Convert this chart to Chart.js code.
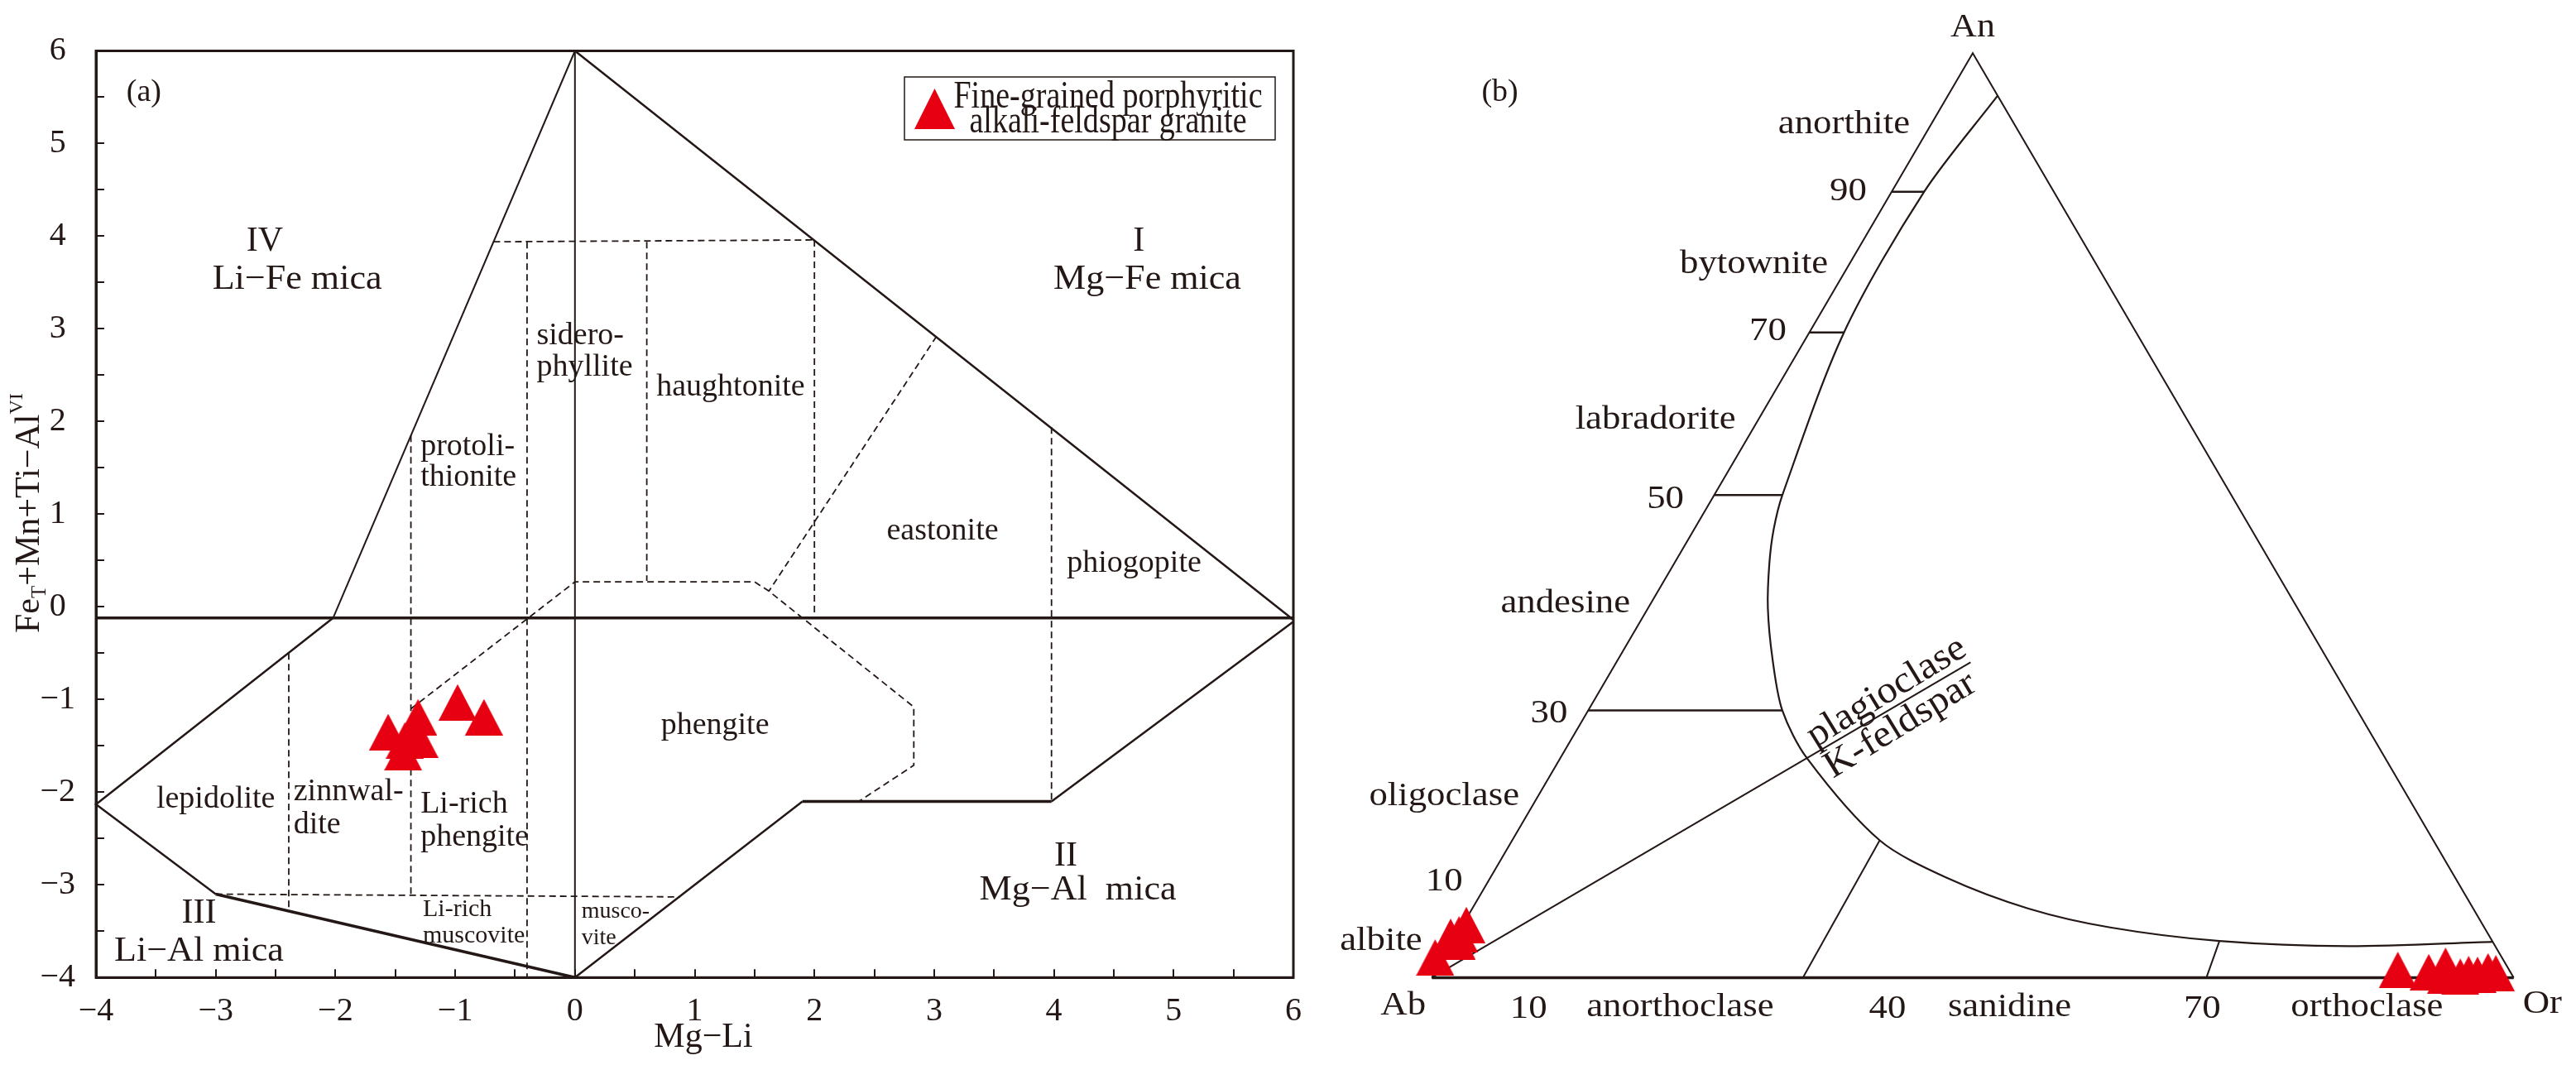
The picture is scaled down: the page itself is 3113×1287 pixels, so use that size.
<!DOCTYPE html>
<html>
<head>
<meta charset="utf-8">
<script src="https://cdn.jsdelivr.net/npm/chart.js@4.4.0/dist/chart.umd.min.js"></script>
<style>
    html, body { margin: 0; padding: 0; background: #fff; }
    #wrap { position: relative; width: 3113px; height: 1287px; }
    #micaChart { position: absolute; left: 0; top: 0; }
    #felsChart { position: absolute; left: 1600px; top: 0; }
</style>
</head>
<body>
<div id="wrap">
    <canvas id="micaChart" width="1600" height="1287"></canvas>
    <canvas id="felsChart" width="1513" height="1287"></canvas>
</div>
<script>
const INK = '#231815';
const RED = '#e60012';
const SERIF = "'Liberation Serif', 'Times New Roman', serif";

// ---- (a) Mg-Li vs FeT+Mn+Ti-AlVI ----
const micaX = [-1.56, -1.31, -1.30, -1.435, -1.42, -0.98, -0.76];
const micaY = [-1.35, -1.19, -1.43, -1.57, -1.44, -1.03, -1.19];

// field boundaries, [x, y] pairs
const micaSolid = [
    [[0, 6], [-2.02, -0.12]],
    [[0, -4], [0, 6]],
    [[0, 6], [6, -0.14]],
    [[-2.02, -0.12], [-4, -2.13], [-3, -3.1]],
    [[-3, -3.1], [0, -4]],
    [[0, -4], [1.9, -2.1]],
    [[1.9, -2.1], [3.98, -2.1]],
    [[3.98, -2.1], [6, -0.16]],
    [[-4, -0.12], [6, -0.12]]
];
const micaSolidWidth = [2, 2, 2.5, 2.5, 3.5, 2.5, 3.5, 2.5, 3.5];

const micaDashed = [
    [[-0.68, 3.94], [2.0, 3.96]],
    [[-0.4, 3.94], [-0.4, -4]],
    [[0.6, 3.94], [0.6, 0.28]],
    [[2.0, 3.96], [2.0, -0.12]],
    [[3.98, 1.94], [3.98, -2.1]],
    [[-1.37, 1.85], [-1.37, -3.12]],
    [[-2.39, -0.5], [-2.39, -3.28]],
    [[-3, -3.1], [0.88, -3.13]],
    [[-1.37, -1.1], [0, 0.27], [1.5, 0.27], [1.62, 0.17], [2.83, -1.08], [2.83, -1.71], [2.37, -2.1]],
    [[3.02, 2.92], [1.62, 0.17]]
];

// ---- (b) Ab-An-Or, x = position along Ab-Or base, y = height (both 0-100) ----
const felsAbX = [0.31, 1.74, 2.52, 3.19, 2.3];
const felsAbY = [2.18, 4.42, 4.69, 5.69, 3.9];
const felsOrX = [89.29, 92.15, 93.7, 93.73, 95.07, 95.84, 96.66, 97.63, 98.35];
const felsOrY = [0.84, 0.6, 1.29, 0.19, 0.1, 0.39, 0.3, 0.69, 0.48];

const felsEdges = [[0, 0], [50, 100], [100, 0]];
const felsBase = [[0, 0], [100, 0]];
const felsCurve = [
    [52.3, 95.4], [45.5, 85.0], [38.1, 69.8], [32.4, 52.2], [31.6, 48.5], [31.2, 44.8],
    [31.06, 40.0], [31.5, 34.4], [32.4, 28.9], [34.7, 23.7], [41.4, 14.85], [47.6, 10.8],
    [55.15, 7.47], [62.7, 5.43], [72.8, 3.96], [84.7, 3.4], [98.06, 3.88]
];
const felsTicks = [
    [[42.5, 85.0], [45.5, 85.0]],
    [[34.9, 69.8], [38.1, 69.8]],
    [[26.1, 52.2], [32.4, 52.2]],
    [[14.45, 28.9], [32.4, 28.9]]
];
const felsDividers = [
    [[34.3, 0], [41.4, 14.85]],
    [[71.6, 0], [72.8, 3.96]],
    [[0, 0], [49.8, 34.1]]
];

// ---- text ----
const micaLabels = [
    { t: '(a)', x: -3.60, y: 5.55, size: 38 },
    { t: 'IV', x: -2.59, y: 3.94, size: 42 },
    { t: 'Li\u2212Fe mica', x: -2.32, y: 3.53, size: 42, sx: 1.05 },
    { t: 'I', x: 4.71, y: 3.94, size: 42 },
    { t: 'Mg\u2212Fe mica', x: 4.78, y: 3.53, size: 42, sx: 1.05 },
    { t: 'sidero-', x: -0.32, y: 2.92, size: 38, align: 'left' },
    { t: 'phyllite', x: -0.32, y: 2.58, size: 38, align: 'left' },
    { t: 'haughtonite', x: 1.30, y: 2.37, size: 38 },
    { t: 'protoli-', x: -1.29, y: 1.73, size: 38, align: 'left' },
    { t: 'thionite', x: -1.29, y: 1.40, size: 38, align: 'left' },
    { t: 'eastonite', x: 3.07, y: 0.82, size: 38 },
    { t: 'phiogopite', x: 4.67, y: 0.47, size: 38 },
    { t: 'phengite', x: 1.17, y: -1.28, size: 38 },
    { t: 'lepidolite', x: -3.0, y: -2.08, size: 38 },
    { t: 'zinnwal-', x: -2.35, y: -2.0, size: 38, align: 'left' },
    { t: 'dite', x: -2.35, y: -2.35, size: 38, align: 'left' },
    { t: 'Li-rich', x: -1.29, y: -2.13, size: 38, align: 'left' },
    { t: 'phengite', x: -1.29, y: -2.485, size: 38, align: 'left' },
    { t: 'II', x: 4.10, y: -2.69, size: 42 },
    { t: 'Mg\u2212Al  mica', x: 4.20, y: -3.06, size: 42, sx: 1.05 },
    { t: 'III', x: -3.14, y: -3.31, size: 42 },
    { t: 'Li\u2212Al mica', x: -3.14, y: -3.72, size: 42, sx: 1.05 },
    { t: 'Li-rich', x: -1.27, y: -3.27, size: 30, align: 'left' },
    { t: 'muscovite', x: -1.27, y: -3.55, size: 30, align: 'left' },
    { t: 'musco-', x: 0.055, y: -3.29, size: 28, align: 'left' },
    { t: 'vite', x: 0.055, y: -3.57, size: 28, align: 'left' }
];

const felsLabels = [
    { t: '(b)', x: 6.29, y: 95.73, size: 38, sx: 1 },
    { t: 'An', x: 50.0, y: 102.8, size: 40, sx: 1.1 },
    { t: 'anorthite', x: 38.1, y: 92.24 },
    { t: '90', x: 38.49, y: 85.0 },
    { t: 'bytownite', x: 29.78, y: 77.18 },
    { t: '70', x: 31.06, y: 69.94 },
    { t: 'labradorite', x: 20.68, y: 60.29 },
    { t: '50', x: 21.59, y: 51.76 },
    { t: 'andesine', x: 12.35, y: 40.41 },
    { t: '30', x: 10.84, y: 28.52 },
    { t: 'oligoclase', x: 1.14, y: 19.58 },
    { t: '10', x: 1.14, y: 10.35 },
    { t: 'albite', x: -4.69, y: 3.96 },
    { t: 'Ab', x: -2.65, y: -3.06 },
    { t: '10', x: 8.94, y: -3.43 },
    { t: 'anorthoclase', x: 22.95, y: -3.25 },
    { t: '40', x: 42.12, y: -3.43 },
    { t: 'sanidine', x: 53.41, y: -3.25 },
    { t: '70', x: 71.21, y: -3.43 },
    { t: 'orthoclase', x: 86.44, y: -3.25 },
    { t: 'Or', x: 102.65, y: -2.88 },
    { t: 'plagioclase', x: 42.05, y: 30.86, size: 46, sx: 1.05, rot: -31.5 },
    { t: 'K-feldspar', x: 43.32, y: 27.28, size: 46, sx: 1.05, rot: -31.5 }
];

function triangleImg(w, h) {
    const c = document.createElement('canvas');
    c.width = w;
    c.height = h;
    const g = c.getContext('2d');
    g.fillStyle = RED;
    g.beginPath();
    g.moveTo(w / 2, 0);
    g.lineTo(w, h);
    g.lineTo(0, h);
    g.closePath();
    g.fill();
    return c;
}

function toPts(seg) {
    return seg.map(p => ({ x: p[0], y: p[1] }));
}

function lineSet(seg, width, dash, tension) {
    return {
        data: toPts(seg),
        showLine: true,
        borderColor: INK,
        borderWidth: width,
        borderDash: dash || [],
        tension: tension || 0,
        pointRadius: 0,
        clip: false
    };
}

function pointSet(xs, ys, img) {
    return {
        data: xs.map((x, i) => ({ x: x, y: ys[i] })),
        pointStyle: img,
        pointRadius: 20,
        showLine: false,
        clip: false
    };
}

function drawLabels(chart, labels, defSize, defSx) {
    const ctx = chart.ctx;
    const xs = chart.scales.x, ys = chart.scales.y;
    labels.forEach(L => {
        ctx.save();
        ctx.translate(xs.getPixelForValue(L.x), ys.getPixelForValue(L.y));
        if (L.rot) ctx.rotate(L.rot * Math.PI / 180);
        ctx.scale(L.sx || defSx, 1);
        ctx.font = (L.size || defSize) + 'px ' + SERIF;
        ctx.fillStyle = INK;
        ctx.textAlign = L.align || 'center';
        ctx.textBaseline = 'middle';
        ctx.fillText(L.t, 0, 0);
        ctx.restore();
    });
}

const triPlot = triangleImg(46, 44);
const triLegend = triangleImg(49, 49);

const micaDecor = {
    id: 'micaDecor',
    afterDraw(chart) {
        const ctx = chart.ctx;
        const a = chart.chartArea;
        // frame
        ctx.save();
        ctx.strokeStyle = INK;
        ctx.lineWidth = 3;
        ctx.strokeRect(a.left, a.top, a.right - a.left, a.bottom - a.top);
        ctx.restore();

        drawLabels(chart, micaLabels, 38, 1);

        // legend
        ctx.save();
        ctx.fillStyle = '#fff';
        ctx.fillRect(1093, 93, 448, 76);
        ctx.strokeStyle = INK;
        ctx.lineWidth = 1.5;
        ctx.strokeRect(1093, 93, 448, 76);
        ctx.drawImage(triLegend, 1105, 107);
        ctx.fillStyle = INK;
        ctx.font = '47px ' + SERIF;
        ctx.textAlign = 'center';
        ctx.textBaseline = 'alphabetic';
        [['Fine-grained porphyritic', 130], ['alkali-feldspar granite', 160]].forEach(([s, y]) => {
            ctx.save();
            ctx.translate(1339, y);
            ctx.scale(0.81, 1);
            ctx.fillText(s, 0, 0);
            ctx.restore();
        });
        ctx.restore();

        // y axis title with sub/superscript
        ctx.save();
        ctx.translate(47, 765);
        ctx.rotate(-Math.PI / 2);
        ctx.fillStyle = INK;
        ctx.textAlign = 'left';
        ctx.textBaseline = 'alphabetic';
        let x = 0;
        [['Fe', 42, 0], ['T', 25, 8], ['+Mn+Ti\u2212Al', 42, 0], ['VI', 24, -20]].forEach(([s, size, dy]) => {
            ctx.font = size + 'px ' + SERIF;
            ctx.fillText(s, x, dy);
            x += ctx.measureText(s).width;
        });
        ctx.restore();

        // x axis title
        ctx.save();
        ctx.fillStyle = INK;
        ctx.font = '42px ' + SERIF;
        ctx.textAlign = 'center';
        ctx.textBaseline = 'alphabetic';
        ctx.fillText('Mg\u2212Li', 850, 1265);
        ctx.restore();
    }
};

const felsDecor = {
    id: 'felsDecor',
    afterDraw(chart) {
        drawLabels(chart, felsLabels, 40, 1.12);
    }
};

function tickLabel(v) {
    return Number.isInteger(v) ? String(v).replace('-', '\u2212') : '';
}

const micaSets = [pointSet(micaX, micaY, triPlot)];
micaSolid.forEach((seg, i) => micaSets.push(lineSet(seg, micaSolidWidth[i])));
micaDashed.forEach(seg => micaSets.push(lineSet(seg, 1.8, [8, 5])));

new Chart(document.getElementById('micaChart'), {
    type: 'scatter',
    data: { datasets: micaSets },
    options: {
        responsive: false,
        animation: false,
        layout: { padding: { left: 0, right: 26.5, top: 61.5, bottom: 0 } },
        plugins: { legend: { display: false }, tooltip: { enabled: false } },
        scales: {
            x: {
                type: 'linear',
                min: -4,
                max: 6,
                afterFit: s => { s.height = 105.7; },
                ticks: {
                    stepSize: 0.5,
                    autoSkip: false,
                    maxRotation: 0,
                    padding: 27,
                    color: INK,
                    font: { family: SERIF, size: 40 },
                    callback: tickLabel
                },
                grid: { drawOnChartArea: false, tickLength: -10, color: INK, lineWidth: 2 },
                border: { display: true, color: INK, width: 3 }
            },
            y: {
                type: 'linear',
                min: -4,
                max: 6,
                afterFit: s => { s.width = 116; },
                ticks: {
                    stepSize: 0.5,
                    autoSkip: false,
                    padding: 35,
                    crossAlign: 'center',
                    color: INK,
                    font: { family: SERIF, size: 40 },
                    callback: tickLabel
                },
                grid: { drawOnChartArea: false, tickLength: -10, color: INK, lineWidth: 2 },
                border: { display: true, color: INK, width: 3 }
            }
        }
    },
    plugins: [micaDecor]
});

const felsSets = [
    pointSet(felsOrX, felsOrY, triPlot),
    pointSet(felsAbX, felsAbY, triPlot),
    lineSet(felsEdges, 2),
    lineSet(felsBase, 3.5),
    lineSet(felsCurve, 2.2, null, 0.3)
];
felsTicks.forEach(seg => felsSets.push(lineSet(seg, 2.5)));
felsDividers.forEach(seg => felsSets.push(lineSet(seg, 2)));

new Chart(document.getElementById('felsChart'), {
    type: 'scatter',
    data: { datasets: felsSets },
    options: {
        responsive: false,
        animation: false,
        layout: { padding: { left: 130.3, right: 75.3, top: 64.3, bottom: 105.6 } },
        plugins: { legend: { display: false }, tooltip: { enabled: false } },
        scales: {
            x: { type: 'linear', min: 0, max: 100, display: false },
            y: { type: 'linear', min: 0, max: 100, display: false }
        }
    },
    plugins: [felsDecor]
});
</script>
</body>
</html>
